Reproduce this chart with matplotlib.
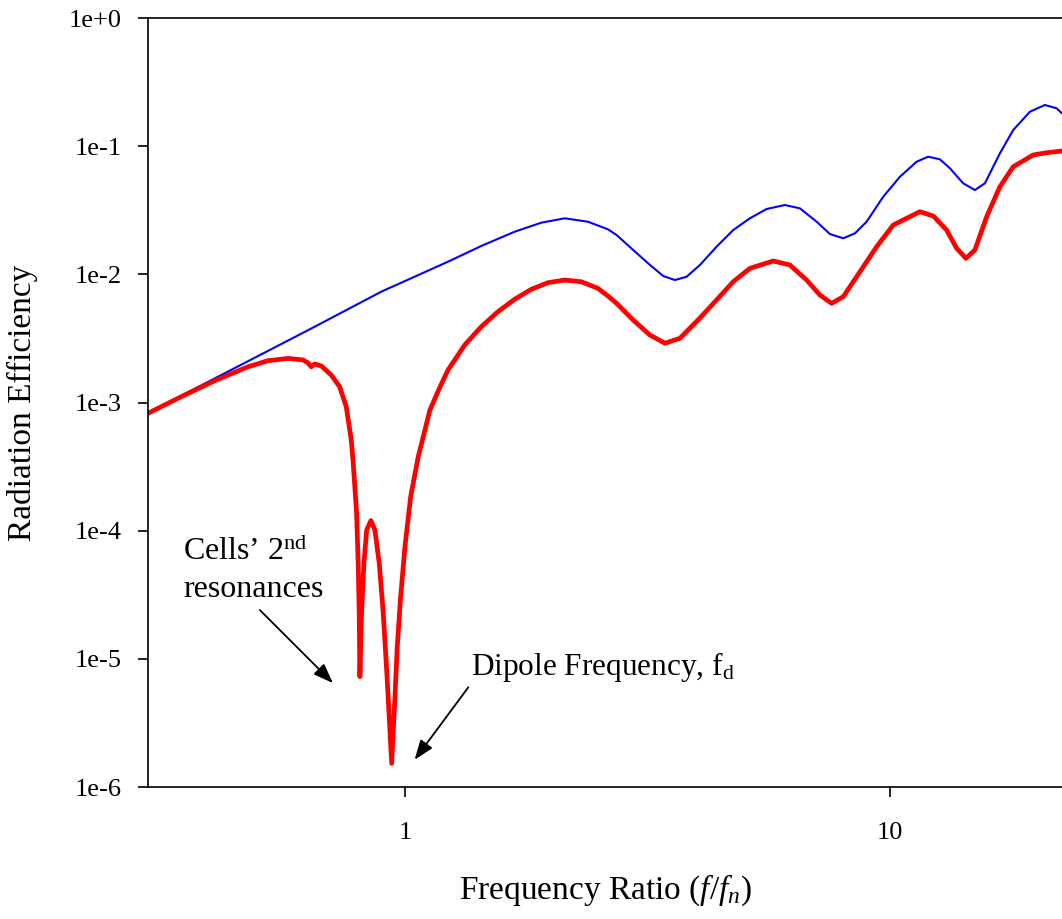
import numpy as np
import matplotlib
matplotlib.use("Agg")
import matplotlib.pyplot as plt

plt.rcParams['font.family'] = ['Liberation Serif', 'DejaVu Serif']
plt.rcParams['mathtext.fontset'] = 'custom'
plt.rcParams['mathtext.rm'] = 'Liberation Serif'
plt.rcParams['mathtext.it'] = 'Liberation Serif:italic'

# blue curve (upper)
blue_f = [0.2953, 0.3743, 0.6513, 0.8935, 1.2266, 1.4365, 1.6835, 1.910, 2.135,
          2.384, 2.622, 2.732, 2.956, 3.201, 3.409, 3.603, 3.809, 4.057, 4.391,
          4.753, 5.144, 5.569, 6.074, 6.522, 7.062, 7.520, 8.012, 8.472, 8.954,
          9.687, 10.49, 11.35, 11.99, 12.68, 13.30, 14.16, 14.97, 15.70, 16.86,
          17.96, 19.44, 20.87, 22.07, 22.62, 23.5]
blue_eff = [8.24e-4, 1.32e-3, 3.90e-3, 7.32e-3, 0.01255, 0.01664, 0.02151, 0.02529,
            0.02737, 0.02575, 0.02246, 0.02027, 0.01549, 0.01183, 9.70e-3, 9.03e-3,
            9.58e-3, 0.01183, 0.01643, 0.02218, 0.02737, 0.03234, 0.03475, 0.03274,
            0.02575, 0.02064, 0.01911, 0.02090, 0.02575, 0.04033, 0.05778, 0.07563,
            0.08276, 0.07899, 0.06722, 0.05132, 0.04550, 0.05132, 0.08801, 0.1337,
            0.1857, 0.2096, 0.1975, 0.1805, 0.168]

# red curve (lower, with the two deep dips)
red_f = [0.2953, 0.3457, 0.4052, 0.4746, 0.5219, 0.5739, 0.6163, 0.6310, 0.6409,
         0.6513, 0.6721, 0.7047, 0.7334, 0.7568, 0.7750, 0.7823, 0.7949, 0.8009,
         0.8048, 0.8074, 0.8139, 0.8230, 0.8338, 0.8509, 0.8671, 0.8851, 0.9021,
         0.9194, 0.9389, 0.9537, 0.9641, 0.9797, 1.0, 1.0275, 1.0652, 1.1259,
         1.1807, 1.2266, 1.328, 1.4365, 1.555, 1.6835, 1.821, 1.972, 2.135, 2.309,
         2.500, 2.622, 2.732, 2.956, 3.201, 3.437, 3.690, 4.057, 4.391, 4.753,
         5.144, 5.746, 6.220, 6.734, 7.173, 7.583, 8.012, 8.675, 9.389, 10.16,
         11.53, 12.29, 13.09, 13.73, 14.35, 14.97, 15.83, 16.86, 17.96, 19.74,
         21.04, 22.62, 23.5]
red_eff = [8.24e-4, 1.11e-3, 1.48e-3, 1.90e-3, 2.12e-3, 2.21e-3, 2.15e-3, 2.04e-3,
           1.90e-3, 2.00e-3, 1.93e-3, 1.64e-3, 1.33e-3, 9.27e-4, 5.10e-4, 3.35e-4,
           1.37e-4, 5.57e-5, 2.27e-5, 7.26e-6, 2.27e-5, 5.57e-5, 1.01e-4, 1.20e-4,
           1.01e-4, 5.57e-5, 2.27e-5, 6.84e-6, 1.53e-6, 5.07e-6, 1.24e-5, 3.05e-5,
           7.50e-5, 1.84e-4, 3.78e-4, 8.74e-4, 1.32e-3, 1.79e-3, 2.81e-3, 3.90e-3,
           5.11e-3, 6.39e-3, 7.64e-3, 8.61e-3, 9.03e-3, 8.76e-3, 7.78e-3, 6.78e-3,
           5.94e-3, 4.40e-3, 3.36e-3, 2.90e-3, 3.17e-3, 4.56e-3, 6.31e-3, 8.76e-3,
           0.01114, 0.01271, 0.01183, 9.03e-3, 6.90e-3, 5.94e-3, 6.69e-3, 0.01048,
           0.01643, 0.02427, 0.03082, 0.02851, 0.02218, 0.01596, 0.01334, 0.01549,
           0.02816, 0.04828, 0.06916, 0.08532, 0.08893, 0.09169, 0.093]

ytick_vals = [1e-6, 1e-5, 1e-4, 1e-3, 1e-2, 1e-1, 1e0]
ytick_labels = ['1e-6', '1e-5', '1e-4', '1e-3', '1e-2', '1e-1', '1e+0']
xtick_vals = [1, 10]
xtick_labels = ['1', '10']

fig = plt.figure(figsize=(10.62, 9.19), dpi=100)
ax = fig.add_axes([0.1394, 0.1436, 0.868, 0.8368])

ax.plot(blue_f, blue_eff, color='#0000FF', lw=1.5, solid_joinstyle='round')
ax.plot(red_f, red_eff, color='#FF0000', lw=3.4, solid_joinstyle='round')

ax.set_xscale('log')
ax.set_yscale('log')
ax.set_xlim(0.2953, 23.5)
ax.set_ylim(1e-6, 1)
ax.set_xticks(xtick_vals)
ax.set_xticklabels(xtick_labels)
ax.set_yticks(ytick_vals)
ax.set_yticklabels(ytick_labels)
ax.minorticks_off()
ax.tick_params(axis='both', direction='out', length=7, width=1.2, labelsize=19)
ax.tick_params(axis='y', pad=12)
ax.tick_params(axis='x', pad=18)
for s in ax.spines.values():
    s.set_linewidth(1.2)

ax.set_xlabel('Frequency Ratio ($f/f_n$)', fontsize=24)
ax.set_ylabel('Radiation Efficiency', fontsize=24, labelpad=22)
ax.xaxis.set_label_coords(0.496, -0.111)

# annotations
ax.text(0.3485, 5.9e-5, 'Cells\u2019 2$^{\\mathrm{nd}}$', fontsize=23, va='baseline')
ax.text(0.3485, 3.04e-5, 'resonances', fontsize=23, va='baseline')
ax.annotate('', xy=(0.717, 6.25e-6), xytext=(0.4975, 2.49e-5),
            arrowprops=dict(arrowstyle='-|>,head_length=1.2,head_width=0.45', color='black', lw=1.3))
ax.text(1.368, 7.48e-6, 'Dipole Frequency, f$_{\\mathrm{d}}$', fontsize=22.5, va='baseline')
ax.annotate('', xy=(1.039, 1.57e-6), xytext=(1.362, 6.25e-6),
            arrowprops=dict(arrowstyle='-|>,head_length=1.2,head_width=0.45', color='black', lw=1.3))

plt.savefig('out.png', dpi=100)
